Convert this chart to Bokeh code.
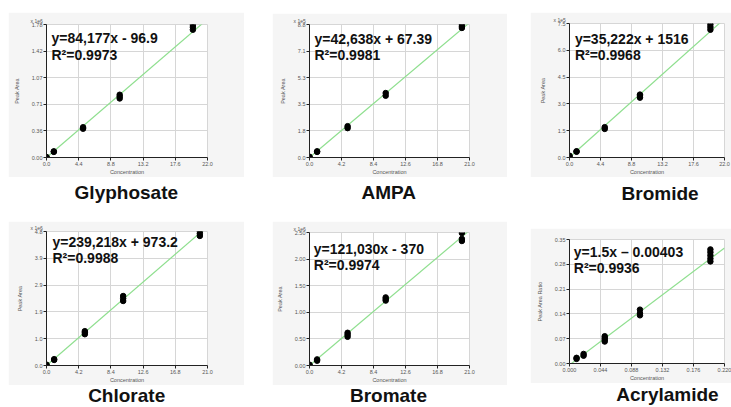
from bokeh.plotting import figure
from bokeh.models import Range1d, FixedTicker, Label, Spacer
from bokeh.layouts import column, row
from bokeh.embed import file_html
from bokeh.resources import INLINE

# ---------------- data ----------------
names = ["Glyphosate", "AMPA", "Bromide", "Chlorate", "Bromate", "Acrylamide"]
y_titles = ["Peak Area", "Peak Area", "Peak Area", "Peak Area", "Peak Area", "Peak Area Ratio"]
x_title = "Concentration"
multipliers = ["x 1e6", "x 1e5", "x 1e5", "x 1e6", "x 1e6", ""]
scales = [1e6, 1e5, 1e5, 1e6, 1e6, 1.0]
slopes = [84177, 42638, 35222, 239218, 121030, 1.5]
intercepts = [-96.9, 67.39, 1516, 973.2, -370, -0.00403]
equations = ["y=84,177x - 96.9", "y=42,638x + 67.39", "y=35,222x + 1516",
             "y=239,218x + 973.2", "y=121,030x - 370", "y=1.5x \u2013 0.00403"]
r2_texts = ["R\u00b2=0.9973", "R\u00b2=0.9981", "R\u00b2=0.9968",
            "R\u00b2=0.9988", "R\u00b2=0.9974", "R\u00b2=0.9936"]

glyphosate_conc = [0, 0, 1, 1, 5, 5, 10, 10, 10, 20, 20, 20]
glyphosate_area = [0.002, 0.006, 0.075, 0.082, 0.385, 0.405, 0.79, 0.815, 0.84, 1.71, 1.745, 1.775]
ampa_conc = [0, 0, 1, 1, 5, 5, 10, 10, 20, 20, 20]
ampa_area = [0.02, 0.05, 0.37, 0.41, 1.95, 2.08, 4.1, 4.28, 8.6, 8.72, 8.85]
bromide_conc = [0, 0, 1, 1, 5, 5, 10, 10, 10, 20, 20, 20]
bromide_area = [0.07, 0.1, 0.32, 0.35, 1.6, 1.7, 3.35, 3.45, 3.52, 7.15, 7.3, 7.45]
chlorate_conc = [0, 0, 1, 1, 5, 5, 5, 10, 10, 10, 20, 20, 20]
chlorate_area = [0.01, 0.03, 0.2, 0.23, 1.13, 1.19, 1.24, 2.33, 2.42, 2.51, 4.68, 4.76, 4.84]
bromate_conc = [0, 0, 1, 1, 5, 5, 5, 10, 10, 10, 20, 20, 20]
bromate_area = [0.005, 0.015, 0.09, 0.115, 0.54, 0.58, 0.615, 1.22, 1.25, 1.28, 2.34, 2.38, 2.49]
acrylamide_conc = [0.01, 0.01, 0.02, 0.02, 0.05, 0.05, 0.05, 0.05, 0.1, 0.1, 0.1,
                   0.2, 0.2, 0.2, 0.2, 0.2]
acrylamide_ratio = [0.013, 0.016, 0.022, 0.027, 0.062, 0.067, 0.072, 0.077, 0.136, 0.142, 0.152,
                    0.288, 0.296, 0.305, 0.314, 0.322]

concs = [glyphosate_conc, ampa_conc, bromide_conc, chlorate_conc, bromate_conc, acrylamide_conc]
areas = [glyphosate_area, ampa_area, bromide_area, chlorate_area, bromate_area, acrylamide_ratio]

x_ticks_22 = [0.0, 4.4, 8.8, 13.2, 17.6, 22.0]
x_labels_22 = ["0.0", "4.4", "8.8", "13.2", "17.6", "22.0"]
x_ticks_21 = [0.0, 4.2, 8.4, 12.6, 16.8, 21.0]
x_labels_21 = ["0.0", "4.2", "8.4", "12.6", "16.8", "21.0"]
x_ticks_acr = [0.0, 0.044, 0.088, 0.132, 0.176, 0.22]
x_labels_acr = ["0.000", "0.044", "0.088", "0.132", "0.176", "0.220"]
x_ticks = [x_ticks_22, x_ticks_21, x_ticks_22, x_ticks_21, x_ticks_21, x_ticks_acr]
x_labels = [x_labels_22, x_labels_21, x_labels_22, x_labels_21, x_labels_21, x_labels_acr]

y_ticks = [
    [0.0, 0.356, 0.712, 1.068, 1.424, 1.78],
    [0.0, 1.766, 3.532, 5.298, 7.064, 8.83],
    [0.0, 1.5, 3.0, 4.5, 6.0, 7.5],
    [0.0, 0.968, 1.936, 2.904, 3.872, 4.84],
    [0.0, 0.5, 1.0, 1.5, 2.0, 2.5],
    [0.0, 0.07, 0.14, 0.21, 0.28, 0.35],
]
y_labels = [
    ["0.00", "0.36", "0.71", "1.07", "1.42", "1.78"],
    ["0.0", "1.8", "3.5", "5.3", "7.1", "8.8"],
    ["0.0", "1.5", "3.0", "4.5", "6.0", "7.5"],
    ["0.0", "1.0", "1.9", "2.9", "3.9", "4.8"],
    ["0.00", "0.50", "1.00", "1.50", "2.00", "2.50"],
    ["0.00", "0.07", "0.14", "0.21", "0.28", "0.35"],
]

# ---------------- layout / style ----------------
BOX = "#f5f5f5"
GRID = "#d6d6d6"
LINE = "#8fdf8f"
FONT = "Liberation Sans"

# width, height, left, right, top, bottom
geoms = [
    (236, 165, 38, 37, 12, 18),
    (235, 164, 37, 38, 11, 18),
    (201, 165, 37, 6, 11, 18),
    (236, 164, 38, 37, 10, 18),
    (235, 164, 37, 38, 11, 17),
    (201, 155, 39, 7, 11, 18),
]
# equation offsets: left, baseline1, baseline2 (from frame top-left)
eq_offsets = [(5, 13.7, 30.3), (5, 14.3, 30.3), (5.4, 15, 31),
              (6, 10.3, 26.3), (4.3, 16, 32), (4.3, 12.3, 28.3)]

# title figs: width, height, center x, baseline from top
title_geoms = [(236, 44, 117, 15.3), (235, 44, 116.3, 14.6), (201, 51, 117.5, 16.3),
               (236, 22, 117.5, 10), (235, 22, 116, 10), (201, 24, 127, 11)]


def make_plot(i):
    w, h, bl, br, bt, bb = geoms[i]
    xs = concs[i]
    ys = areas[i]
    xmax = x_ticks[i][-1]
    ymax = y_ticks[i][-1]
    p = figure(width=w, height=h, x_range=Range1d(0, xmax), y_range=Range1d(0, ymax),
               output_backend="svg", toolbar_location=None,
               min_border_left=bl, min_border_right=br, min_border_top=bt, min_border_bottom=bb,
               border_fill_color=BOX, background_fill_color="white",
               outline_line_color=GRID)
    # multiplier note above the y axis
    p.title.text = multipliers[i]
    p.title.align = "left"
    p.title.offset = -16
    p.title.standoff = 1
    p.title.text_font = FONT
    p.title.text_font_size = "5px"
    p.title.text_font_style = "normal"
    p.title.text_color = "#555555"

    p.xaxis.ticker = FixedTicker(ticks=x_ticks[i])
    p.yaxis.ticker = FixedTicker(ticks=y_ticks[i])
    p.xaxis.major_label_overrides = dict(zip(x_ticks[i], x_labels[i]))
    p.yaxis.major_label_overrides = dict(zip(y_ticks[i], y_labels[i]))
    p.xaxis.axis_label = x_title
    p.yaxis.axis_label = y_titles[i]
    for ax in (p.xaxis[0], p.yaxis[0]):
        ax.axis_line_color = "#222222"
        ax.major_tick_line_color = "#222222"
        ax.major_tick_out = 3
        ax.major_tick_in = 0
        ax.minor_tick_line_color = None
        ax.major_label_text_font_size = "5.5px"
        ax.major_label_text_color = "#555555"
        ax.major_label_text_font = FONT
        ax.axis_label_text_font_size = "5.5px"
        ax.axis_label_text_font_style = "normal"
        ax.axis_label_text_color = "#555555"
        ax.axis_label_text_font = FONT
    p.xaxis.major_label_standoff = 1
    p.xaxis.axis_label_standoff = 0
    p.yaxis.major_label_standoff = 1
    p.yaxis.axis_label_standoff = 9
    p.grid.grid_line_color = GRID
    p.grid.grid_line_width = 1

    # fitted line
    lx = [0.0, xmax]
    ly = [(slopes[i] * v + intercepts[i]) / scales[i] for v in lx]
    p.line(lx, ly, line_color=LINE, line_width=1.2)
    p.scatter(xs, ys, size=5.5, fill_color="black", line_color="black")

    ox, b1, b2 = eq_offsets[i]
    for txt, b in ((equations[i], b1), (r2_texts[i], b2)):
        p.add_layout(Label(x=0, y=ymax, x_offset=ox, y_offset=-b, text=txt,
                           text_font=FONT, text_font_size="14px", text_font_style="bold",
                           text_color="#111111", text_align="left", text_baseline="alphabetic"))
    return p


def make_title(i):
    w, h, cx, base = title_geoms[i]
    t = figure(width=w, height=h, x_range=Range1d(0, w), y_range=Range1d(0, h),
               x_axis_type=None, y_axis_type=None, title=None,
               output_backend="svg", toolbar_location=None, min_border=0,
               outline_line_color=None, border_fill_color="white",
               background_fill_color="white")
    t.grid.visible = False
    t.add_layout(Label(x=cx, y=h - base, text=names[i], text_font=FONT,
                       text_font_size="19px", text_font_style="bold", text_color="#111111",
                       text_align="center", text_baseline="alphabetic"))
    return t


plots = [make_plot(i) for i in range(6)]
titles = [make_title(i) for i in range(6)]

col1 = column(Spacer(width=236, height=12), plots[0], titles[0], plots[3], titles[3], spacing=0)
col2 = column(Spacer(width=235, height=13), plots[1], titles[1], plots[4], titles[4], spacing=0)
col3 = column(Spacer(width=201, height=12), plots[2], titles[2], plots[5], titles[5], spacing=0)
layout = row(Spacer(width=8, height=10), col1, Spacer(width=28, height=10), col2,
             Spacer(width=23, height=10), col3, spacing=0)

open("out.html", "w").write(file_html(layout, INLINE))
